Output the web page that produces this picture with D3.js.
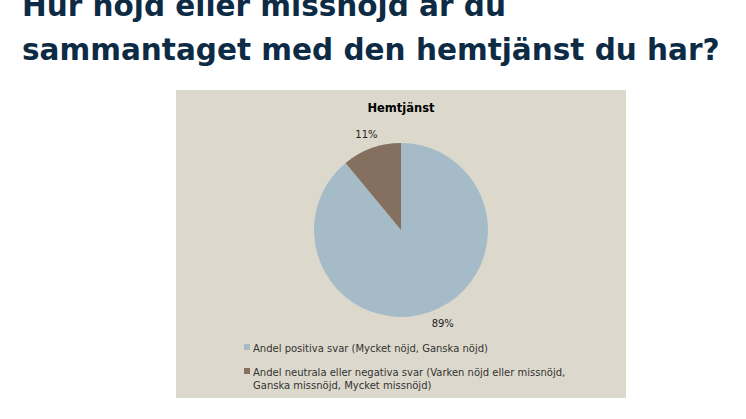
<!DOCTYPE html>
<html><head><meta charset="utf-8">
<script src="https://d3js.org/d3.v7.min.js"></script>
<style>body{margin:0;background:#fff}</style></head>
<body><svg id="c" width="746" height="419"></svg>
<script>
const titleLines = ["Hur nöjd eller missnöjd är du", "sammantaget med den hemtjänst du har?"];
const chartTitle = "Hemtjänst";
const categories = ["Andel positiva svar (Mycket nöjd, Ganska nöjd)",
  "Andel neutrala eller negativa svar (Varken nöjd eller missnöjd, Ganska missnöjd, Mycket missnöjd)"];
const values = [89, 11];
const colors = ["#a6bbc8", "#85705f"];

const svg = d3.select("#c");
const tl = svg.append("g").attr("font-family","'DejaVu Sans',sans-serif").attr("font-weight","bold").attr("fill","#0d2b45");
const t1 = tl.append("text").attr("x",22).attr("y",16).attr("font-size",28).text(titleLines[0]);
const t2 = tl.append("text").attr("x",22).attr("y",60).attr("font-size",28).text(titleLines[1]);
const w2 = t2.node().getComputedTextLength();
const s = 698 / w2 * 28;
t1.attr("font-size", s); t2.attr("font-size", s);

svg.append("rect").attr("x",176).attr("y",90).attr("width",450).attr("height",308).attr("fill","#dcd9cc");
svg.append("text").attr("x",401).attr("y",112).attr("text-anchor","middle")
  .attr("font-family","'DejaVu Sans',sans-serif").attr("font-weight","bold").attr("font-size",11.5).text(chartTitle);

const cx = 401, cy = 230, r = 87;
const pie = d3.pie().sort(null).value(d=>d).startAngle(0).endAngle(2*Math.PI);
const arcs = pie(values);
const arc = d3.arc().innerRadius(0).outerRadius(r);
const g = svg.append("g").attr("transform",`translate(${cx},${cy})`);
g.selectAll("path").data(arcs).join("path").attr("d",arc).attr("fill",(d,i)=>colors[i]);
g.selectAll("text.l").data(arcs).join("text").attr("class","l")
  .attr("transform",(d,i)=>{
    const a = i===0 ? 2.72 : (d.startAngle+d.endAngle)/2;
    const p = d3.arc().innerRadius(r+15).outerRadius(r+15).centroid({startAngle:a,endAngle:a});
    return `translate(${p[0]},${p[1]+4})`;})
  .attr("text-anchor","middle").attr("font-family","'DejaVu Sans',sans-serif").attr("font-size",10)
  .attr("fill","#222").text(d=>d.data+"%");

const leg = svg.append("g").attr("font-family","'DejaVu Sans',sans-serif").attr("font-size",10).attr("fill","#333");
const legY = [350, 374];
const legLines = [[categories[0]], ["Andel neutrala eller negativa svar (Varken nöjd eller missnöjd,","Ganska missnöjd, Mycket missnöjd)"]];
categories.forEach((c,i)=>{
  leg.append("rect").attr("x",244).attr("y",legY[i]-6).attr("width",6).attr("height",6).attr("fill",colors[i]);
  legLines[i].forEach((ln,j)=>leg.append("text").attr("x",253).attr("y",legY[i]+2+j*13).text(ln));
});
</script></body></html>
